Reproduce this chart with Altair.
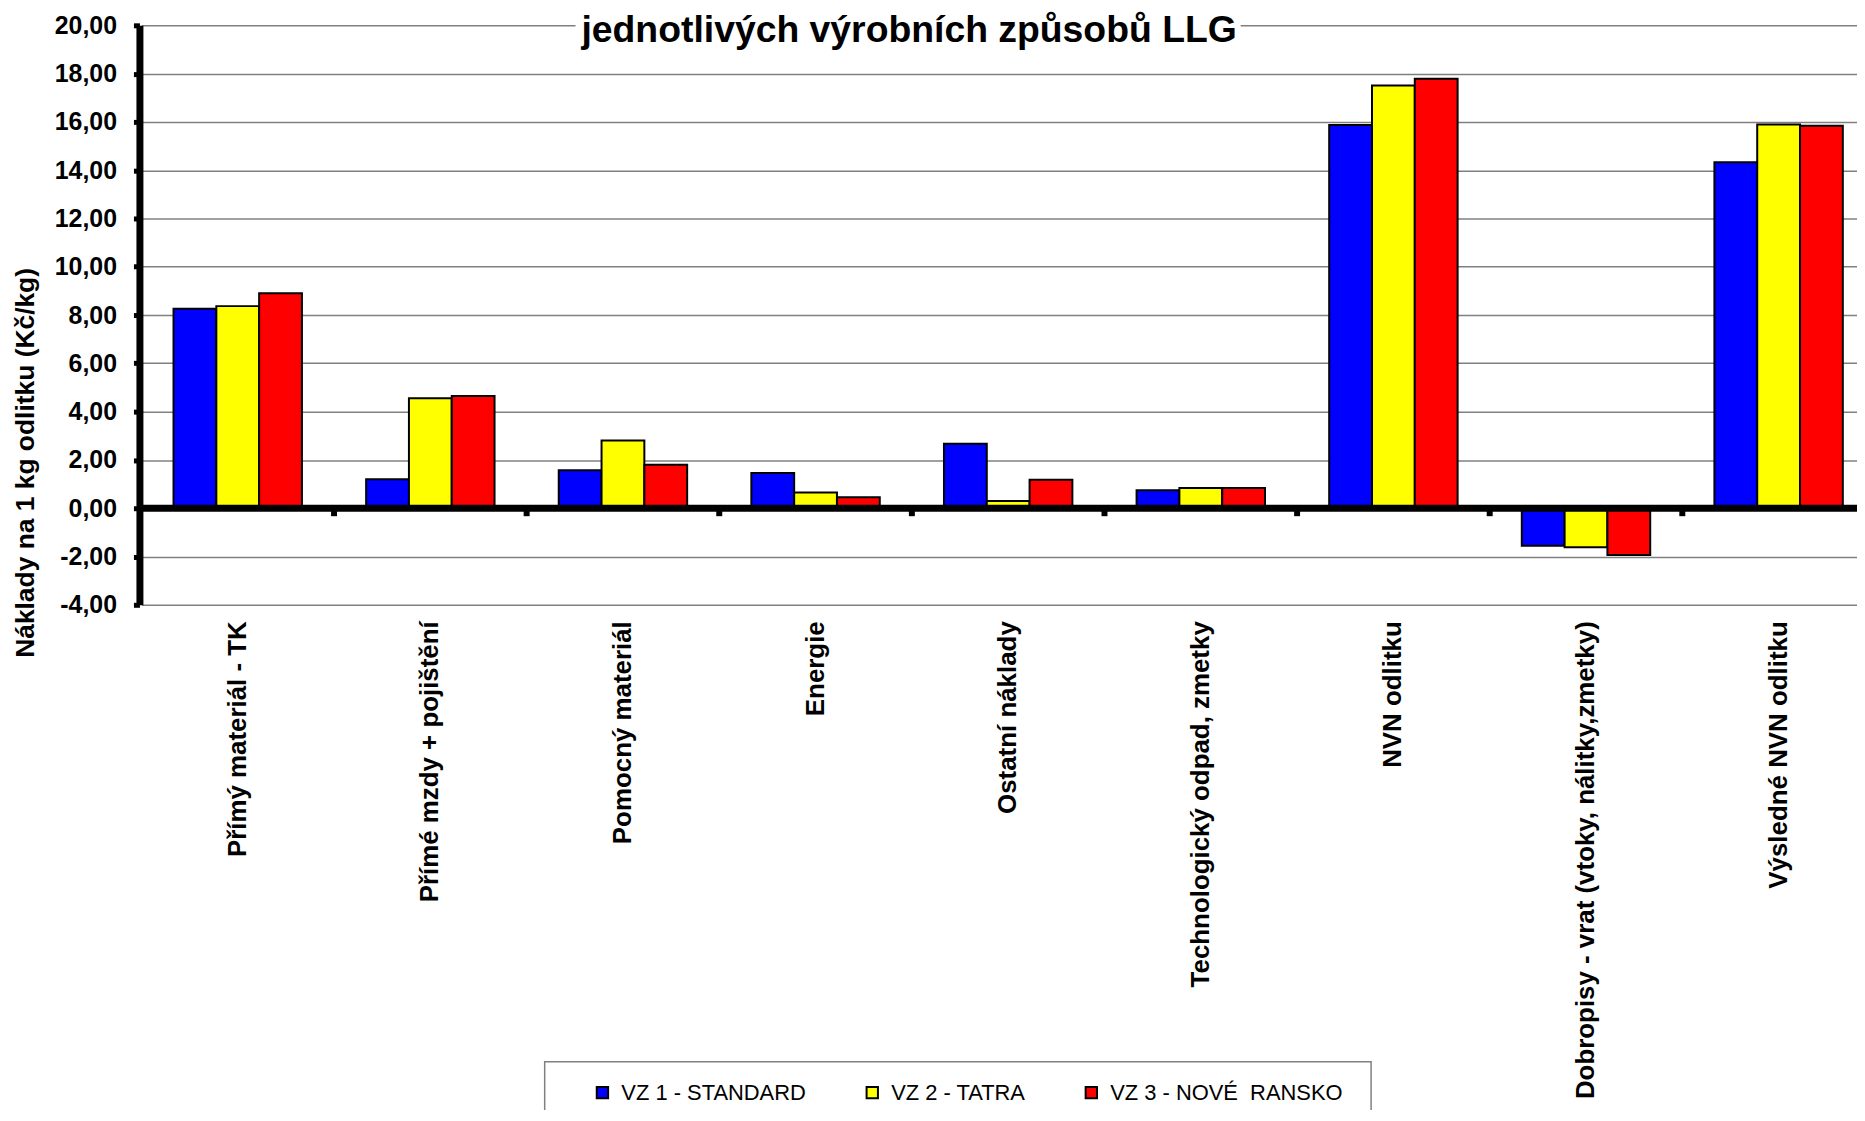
import altair as alt
import pandas as pd

FONT = "Liberation Sans"

title_text = "jednotlivých výrobních způsobů LLG"
y_title = "Náklady na 1 kg odlitku (Kč/kg)"

categories = [
    "Přímý materiál - TK",
    "Přímé mzdy + pojištění",
    "Pomocný materiál",
    "Energie",
    "Ostatní náklady",
    "Technologický odpad, zmetky",
    "NVN odlitku",
    "Dobropisy - vrat (vtoky, nálitky,zmetky)",
    "Výsledné NVN odlitku",
]
series = ["VZ 1 - STANDARD", "VZ 2 - TATRA", "VZ 3 - NOVÉ\u00a0 RANSKO"]
colors = ["#0000FF", "#FFFF00", "#FF0000"]

vz1 = [8.26, 1.20, 1.57, 1.46, 2.67, 0.74, 15.87, -1.55, 14.33]
vz2 = [8.37, 4.55, 2.80, 0.65, 0.30, 0.84, 17.51, -1.62, 15.89]
vz3 = [8.90, 4.65, 1.80, 0.45, 1.18, 0.84, 17.79, -1.94, 15.84]

y_ticks = list(range(-4, 21, 2))

rows = []
for s, vals in zip(series, [vz1, vz2, vz3]):
    for c, v in zip(categories, vals):
        rows.append({"cat": c, "series": s, "value": v})
df = pd.DataFrame(rows)

boundary_df = pd.DataFrame({"cat": categories[1:]})
one_df = pd.DataFrame({"t": [title_text]})

PLOT_W = 1725
PLOT_H = 582

x_enc = alt.X(
    "cat:N",
    sort=categories,
    scale=alt.Scale(paddingInner=0, paddingOuter=0, range=[2, 1743]),
    axis=alt.Axis(
        title=None,
        labelAngle=-90,
        ticks=False,
        tickSize=0,
        domain=False,
        grid=False,
        labelPadding=16,
        labelFont=FONT,
        labelFontSize=26,
        labelFontWeight="bold",
        labelColor="black",
        labelLimit=1000,
    ),
)

label_expr = "(datum.value < 0 ? '-' : '') + replace(format(abs(datum.value), '.2f'), '.', ',')"

y_enc = alt.Y(
    "value:Q",
    scale=alt.Scale(domain=[-4, 20], nice=False),
    axis=alt.Axis(
        title=y_title,
        titleFont=FONT,
        titleFontSize=26.5,
        titleFontWeight="bold",
        titleColor="black",
        titleX=-100,
        titleY=439,
        titleBaseline="bottom",
        values=y_ticks,
        labelExpr=label_expr,
        labelFont=FONT,
        labelFontSize=25,
        labelFontWeight="bold",
        labelColor="black",
        labelPadding=17,
        tickSize=6,
        tickWidth=5,
        tickColor="black",
        domainColor="black",
        domainWidth=7,
        grid=True,
        gridColor="#808080",
        gridWidth=1.5,
    ),
)

bars = alt.Chart(df).mark_bar(stroke="black", strokeWidth=2).encode(
    x=x_enc,
    xOffset=alt.XOffset(
        "series:N", sort=series, scale=alt.Scale(paddingOuter=0.75, paddingInner=0)
    ),
    y=y_enc,
    color=alt.Color(
        "series:N",
        sort=series,
        scale=alt.Scale(domain=series, range=colors),
        legend=alt.Legend(
            title=None,
            orient="none",
            legendX=454,
            legendY=1061,
            direction="horizontal",
            columns=3,
            symbolType="square",
            symbolSize=130,
            symbolStrokeColor="black",
            symbolStrokeWidth=2,
            symbolOpacity=1,
            labelFont=FONT,
            labelFontSize=22,
            labelColor="black",
            labelOffset=8,
            labelLimit=600,
            columnPadding=55,
            padding=0,
        ),
    ),
)

zero_line = alt.Chart(one_df).mark_rule(color="black", strokeWidth=7).encode(
    y=alt.datum(0)
)

boundary_ticks = alt.Chart(boundary_df).mark_rule(color="black", strokeWidth=6).encode(
    x=alt.X("cat:N", sort=categories, bandPosition=0),
    y=alt.datum(0),
    y2=alt.datum(-0.33),
)

title_box = alt.Chart(one_df).mark_rect(color="white").encode(
    x=alt.value(438), x2=alt.value(1106), y=alt.value(-15), y2=alt.value(27)
)

title_mark = alt.Chart(one_df).mark_text(
    font=FONT, fontSize=37.5, fontWeight="bold", align="center", baseline="alphabetic", color="black"
).encode(x=alt.value(773), y=alt.value(17), text="t:N")

legend_frame = alt.Chart(one_df).mark_rect(
    fill="white", stroke="#808080", strokeWidth=1.5
).encode(x=alt.value(407), x2=alt.value(1237), y=alt.value(1041), y2=alt.value(1140))

chart = (
    alt.layer(bars, zero_line, boundary_ticks, title_box, title_mark, legend_frame)
    .properties(
        width=PLOT_W,
        height=PLOT_H,
        autosize=alt.AutoSizeParams(type="none"),
        padding={"left": 132, "top": 15, "right": 0, "bottom": 505},
        background="white",
    )
    .configure_view(stroke=None)
)

chart.save("out.html", embed_options={"renderer": "svg", "actions": False})
